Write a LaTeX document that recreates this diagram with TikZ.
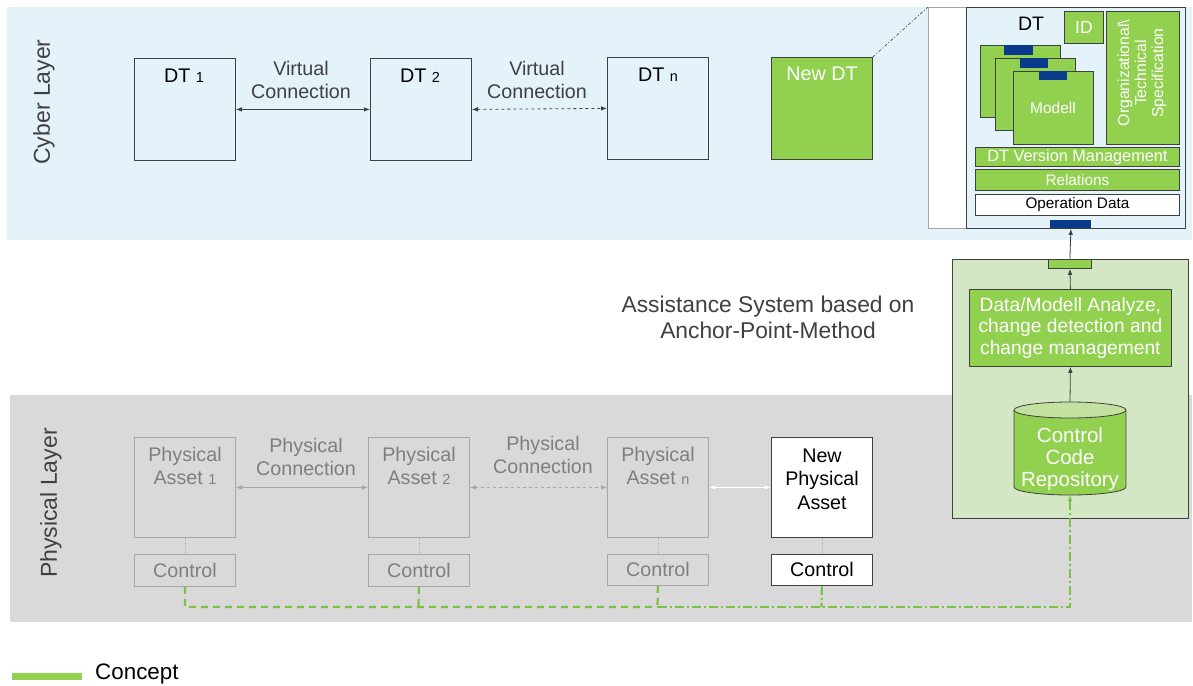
\documentclass[tikz,border=0pt]{standalone}
\usepackage{fontspec}
\setmainfont{Liberation Sans}
\usetikzlibrary{arrows.meta}
\definecolor{cyberbg}{HTML}{E4F2FA}
\definecolor{physbg}{HTML}{D9D9D9}
\definecolor{cgreen}{HTML}{92D050}
\definecolor{panelgreen}{HTML}{D3E7C4}
\definecolor{cyltop}{HTML}{C3E2A0}
\definecolor{dblue}{HTML}{0A3A8C}
\definecolor{dline}{HTML}{404040}
\definecolor{gline}{HTML}{A6A6A6}
\definecolor{gtext}{HTML}{7F7F7F}
\definecolor{dashgreen}{HTML}{7CC242}
\begin{document}
\begin{tikzpicture}[x=1pt,y=-1pt,
  box/.style={draw=dline, line width=0.8pt, inner sep=0pt, anchor=north west},
  dtbox/.style={box, minimum width=101, minimum height=102},
  gbox/.style={draw=gline, line width=0.8pt, inner sep=0pt, anchor=north west},
  gbar/.style={box, fill=cgreen, text=white},
  lbl/.style={inner sep=0pt, align=center, font=\fontsize{19.7}{23.5}\selectfont},
  glbl/.style={lbl, text=gtext},
  tip/.style={-{Latex[length=6pt,width=4.5pt]}},
  dtip/.style={{Latex[length=6pt,width=4.5pt]}-{Latex[length=6pt,width=4.5pt]}},
  concept/.style={draw=dashgreen, line width=2.2pt, dash pattern=on 7pt off 5pt},
  conceptdd/.style={draw=dashgreen, line width=2.2pt, dash pattern=on 9pt off 3pt on 2pt off 3pt}
]
\useasboundingbox (0,0) rectangle (1193,685);
\fill[white] (0,0) rectangle (1193,685);

% layers
\node[inner sep=0pt, fill=cyberbg, minimum width=1185, minimum height=233, anchor=north west] (cyber) at (7,7) {};
\node[inner sep=0pt, fill=physbg, minimum width=1182, minimum height=227, anchor=north west] (phys) at (10,395) {};
\node[rotate=90, inner sep=0pt, font=\fontsize{23}{26}\selectfont, text=dline] (cyberlbl) at (44,102) {Cyber Layer};
\node[rotate=90, inner sep=0pt, font=\fontsize{23}{26}\selectfont, text=dline] (physlbl) at (51,503) {Physical Layer};

% DTs
\node[dtbox] (dt1) at (134,58) {};
\node[dtbox] (dt2) at (370,58) {};
\node[dtbox] (dtn) at (607,57) {};
\node[dtbox, fill=cgreen] (newdt) at (771,57) {};
\node[lbl] (dt1t) at (184,76) {DT {\fontsize{14.5}{14.5}\selectfont 1}};
\node[lbl] (dt2t) at (420,76) {DT {\fontsize{14.5}{14.5}\selectfont 2}};
\node[lbl] (dtnt) at (658,75) {DT {\fontsize{14.5}{14.5}\selectfont n}};
\node[lbl, text=white] (newdtt) at (822,74) {New DT};
\node[lbl, text=dline] (vc1) at (301,80) {Virtual\\Connection};
\node[lbl, text=dline] (vc2) at (537,80) {Virtual\\Connection};
\draw[dtip, dline, line width=0.8pt] (dt1.east) -- (dt2.west);
\draw[dtip, dline, line width=0.8pt, dashed] (dt2.east) -- (dtn.west);

% DT detail panel
\node[gbox, fill=white, minimum width=257, minimum height=221] (panel) at (928,7) {};
\node[box, fill=cyberbg, minimum width=219, minimum height=221] (dtpanel) at (966,7) {};
\draw[dline, line width=0.6pt, dash pattern=on 3pt off 2pt on 1pt off 2pt] (newdt.north east) -- (panel.north west);
\node[inner sep=0pt, font=\fontsize{19.5}{23}\selectfont] (dtpt) at (1031,24) {DT};
\node[gbar, minimum width=39, minimum height=32, font=\fontsize{17.5}{20}\selectfont] (id) at (1064,11) {ID};
\node[gbar, minimum width=73, minimum height=133] (org) at (1106,11) {};
\node[rotate=90, text=white, align=center, inner sep=0pt, font=\fontsize{15.8}{17}\selectfont] (orgt) at (1142,73) {Organizational\textbackslash\\Technical\\Specification};
\node[gbar, minimum width=80, minimum height=72] (m1) at (980,45) {};
\node[box, fill=dblue, draw=none, minimum width=29, minimum height=10] (m1tab) at (1004,45) {};
\node[gbar, minimum width=80, minimum height=72] (m2) at (995,58) {};
\node[box, fill=dblue, draw=none, minimum width=28, minimum height=10] (m2tab) at (1020,58) {};
\node[gbar, minimum width=80, minimum height=73] (m3) at (1013,71) {};
\node[box, fill=dblue, draw=none, minimum width=28, minimum height=9] (m3tab) at (1039,71) {};
\node[inner sep=0pt, text=white, font=\fontsize{15.5}{17}\selectfont] (m3t) at (1053,108) {Modell};
\node[gbar, minimum width=204, minimum height=19, font=\fontsize{16.3}{17}\selectfont] (dtvm) at (975,147) {DT Version Management};
\node[gbar, minimum width=204, minimum height=21, font=\fontsize{15.3}{17}\selectfont] (rel) at (975,169) {Relations};
\node[box, fill=white, minimum width=204, minimum height=21, font=\fontsize{15.3}{17}\selectfont] (opd) at (975,194) {Operation Data};
\node[box, fill=dblue, draw=none, minimum width=41, minimum height=8] (btab) at (1050,220) {};

% Assistance system
\node[lbl, font=\fontsize{22.8}{26}\selectfont, text=dline] (asst) at (768,317) {Assistance System based on\\Anchor-Point-Method};
\node[box, fill=panelgreen, minimum width=236, minimum height=259] (asp) at (952,259) {};
\node[gbar, minimum width=43, minimum height=9] (gtab) at (1048,259) {};
\node[gbar, minimum width=202, minimum height=77, align=center, font=\fontsize{19.2}{21.5}\selectfont] (ana) at (969,289) {Data/Modell Analyze,\\change detection and\\change management};
\node[inner sep=0pt, minimum width=112, minimum height=93] (repo) at (1070,448.5) {};
\fill[cgreen] (1014,410) rectangle (1126,487);
\fill[cgreen] (1070,487) ellipse [x radius=56pt, y radius=8pt];
\draw[dline, line width=0.8pt] (1014,410) -- (1014,487) arc[start angle=180, end angle=360, x radius=56pt, y radius=8pt] -- (1126,410);
\draw[dline, line width=0.8pt, fill=cyltop] (1070,410) ellipse [x radius=56pt, y radius=8pt];
\node[lbl, text=white, font=\fontsize{20.5}{22}\selectfont] (repot) at (1070,459) {Control\\Code\\Repository};
\draw[tip, dline, line width=0.8pt] (repo.north) -- (ana.south);
\draw[tip, dline, line width=0.8pt] (ana.north) -- (gtab.south);
\draw[tip, dline, line width=0.8pt] (gtab.north) -- (btab.south);

% Physical assets
\node[gbox, minimum width=101, minimum height=100] (pa1) at (134,437) {};
\node[gbox, minimum width=101, minimum height=100] (pa2) at (368,437) {};
\node[gbox, minimum width=101, minimum height=100] (pan) at (607,437) {};
\node[box, fill=white, minimum width=101, minimum height=100] (pnew) at (771,437) {};
\node[glbl] (pa1t) at (185,466) {Physical\\Asset {\fontsize{14.5}{14.5}\selectfont 1}};
\node[glbl] (pa2t) at (419,466) {Physical\\Asset {\fontsize{14.5}{14.5}\selectfont 2}};
\node[glbl] (pant) at (658,466) {Physical\\Asset {\fontsize{14.5}{14.5}\selectfont n}};
\node[lbl, text=black] (pnewt) at (822,479) {New\\Physical\\Asset};
\node[glbl] (pc1t) at (306,457) {Physical\\Connection};
\node[glbl] (pc2t) at (543,455) {Physical\\Connection};
\draw[dtip, gline, line width=0.8pt] (pa1.east) -- (pa2.west);
\draw[dtip, gline, line width=0.8pt, dashed] (pa2.east) -- (pan.west);
\draw[dtip, white, line width=1.5pt] (pan.east) -- (pnew.west);

% Controls
\node[gbox, minimum width=101, minimum height=32, text=gtext, font=\fontsize{19.7}{20}\selectfont] (c1) at (134,554) {Control};
\node[gbox, minimum width=101, minimum height=32, text=gtext, font=\fontsize{19.7}{20}\selectfont] (c2) at (368,554) {Control};
\node[gbox, minimum width=101, minimum height=31, text=gtext, font=\fontsize{19.7}{20}\selectfont] (cn) at (607,554) {Control};
\node[box, fill=white, minimum width=101, minimum height=31, font=\fontsize{19.7}{20}\selectfont] (cnew) at (771,554) {Control};
\draw[gline, dotted] (pa1.south) -- (c1.north);
\draw[gline, dotted] (pa2.south) -- (c2.north);
\draw[gline, dotted] (pan.south) -- (cn.north);
\draw[gline, dotted] (pnew.south) -- (cnew.north);

% concept line
\coordinate (b1) at (185,607);
\coordinate (b2) at (418.5,607);
\coordinate (bn) at (657.5,607);
\coordinate (bnew) at (821.5,607);
\draw[concept] (c1.south) -- (b1) -- (bn);
\draw[concept] (c2.south) -- (b2);
\draw[concept] (cn.south) -- (bn);
\draw[conceptdd] (cnew.south) -- (bnew);
\draw[conceptdd, -{Latex[length=6pt,width=5pt]}] (bn) -| (repo.south);

% legend
\coordinate (lg1) at (12,676);
\coordinate (lg2) at (82,676);
\draw[cgreen, line width=7pt] (lg1) -- (lg2);
\node[inner sep=0pt, anchor=west, font=\fontsize{22.4}{26}\selectfont] (lgt) at (95,674) {Concept};
\end{tikzpicture}
\end{document}
